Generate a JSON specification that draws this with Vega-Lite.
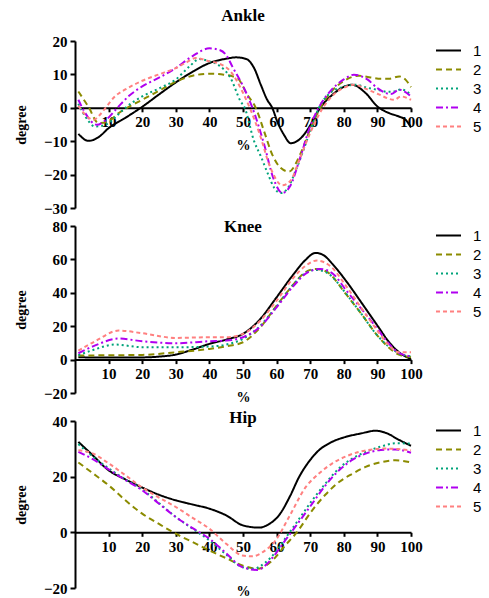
{
  "$schema": "https://vega.github.io/schema/vega-lite/v6.json",
  "padding": {"left": 14, "top": 7, "right": 0, "bottom": 0},
  "background": "white",
  "config": {
    "view": {"stroke": null},
    "font": "Liberation Serif",
    "title": {"font": "Liberation Serif", "fontSize": 17, "fontWeight": "bold", "color": "black", "frame": "group", "anchor": "middle"},
    "axis": {
      "grid": false, "domainColor": "black", "domainWidth": 2, "tickColor": "black", "tickWidth": 2, "tickSize": 5,
      "labelFont": "Liberation Serif", "labelFontWeight": "bold", "labelFontSize": 15, "labelColor": "black",
      "titleFont": "Liberation Serif", "titleFontWeight": "bold", "titleFontSize": 14, "titleColor": "black"
    },
    "axisX": {"tickSize": 4, "labelPadding": 3, "labelFlush": false, "labelOverlap": false},
    "axisY": {"labelPadding": 3, "titlePadding": 15},
    "legend": {"labelFont": "Liberation Sans", "labelFontSize": 15, "labelColor": "black", "symbolStrokeWidth": 2, "symbolSize": 625, "symbolType": "stroke", "rowPadding": 0, "clipHeight": 19, "labelLimit": 30, "offset": 20, "labelOffset": 11}
  },
  "bounds": "flush",
  "spacing": 18,
  "resolve": {"scale": {"x": "independent", "y": "independent", "color": "independent", "strokeDash": "independent"}, "legend": {"color": "independent", "strokeDash": "independent"}},
  "datasets": {
    "ankle": [
      {"sub":"1","pct":1,"deg":-7.8},{"sub":"1","pct":4,"deg":-9.9},{"sub":"1","pct":7,"deg":-8.8},{"sub":"1","pct":10,"deg":-6.1},{"sub":"1","pct":15,"deg":-3.0},{"sub":"1","pct":20,"deg":0.3},{"sub":"1","pct":25,"deg":4},{"sub":"1","pct":30,"deg":7.6},{"sub":"1","pct":35,"deg":10.8},{"sub":"1","pct":40,"deg":13.4},{"sub":"1","pct":45,"deg":14.7},{"sub":"1","pct":48,"deg":15.1},{"sub":"1","pct":51,"deg":14.6},{"sub":"1","pct":53.3,"deg":11.9},{"sub":"1","pct":55.3,"deg":6.9},{"sub":"1","pct":57.2,"deg":2.4},{"sub":"1","pct":58.7,"deg":0},{"sub":"1","pct":60.2,"deg":-4.1},{"sub":"1","pct":62.2,"deg":-8.1},{"sub":"1","pct":64.2,"deg":-10.6},{"sub":"1","pct":67.2,"deg":-9.1},{"sub":"1","pct":70.1,"deg":-5.1},{"sub":"1","pct":72.6,"deg":-0.6},{"sub":"1","pct":76.6,"deg":3.9},{"sub":"1","pct":82.5,"deg":6.9},{"sub":"1","pct":86.5,"deg":4.4},{"sub":"1","pct":90,"deg":0.4},{"sub":"1","pct":93.5,"deg":-1.6},{"sub":"1","pct":96.4,"deg":-2.6},{"sub":"1","pct":98.4,"deg":-3.6},{"sub":"1","pct":100,"deg":-5.9},
      {"sub":"2","pct":1,"deg":4.9},{"sub":"2","pct":4,"deg":0.3},{"sub":"2","pct":7,"deg":-4.6},{"sub":"2","pct":10,"deg":-4.0},{"sub":"2","pct":13,"deg":-1.6},{"sub":"2","pct":16,"deg":0.3},{"sub":"2","pct":20,"deg":2.4},{"sub":"2","pct":25,"deg":5.1},{"sub":"2","pct":30,"deg":7.8},{"sub":"2","pct":35,"deg":9.6},{"sub":"2","pct":40,"deg":10.2},{"sub":"2","pct":44.3,"deg":9.9},{"sub":"2","pct":48.3,"deg":8.9},{"sub":"2","pct":51.3,"deg":3.9},{"sub":"2","pct":53.8,"deg":0},{"sub":"2","pct":56.3,"deg":-7.1},{"sub":"2","pct":58.7,"deg":-14},{"sub":"2","pct":61,"deg":-17.8},{"sub":"2","pct":63.7,"deg":-19.1},{"sub":"2","pct":67,"deg":-14},{"sub":"2","pct":70,"deg":-6.4},{"sub":"2","pct":73,"deg":0},{"sub":"2","pct":76,"deg":4.5},{"sub":"2","pct":80,"deg":8},{"sub":"2","pct":84.5,"deg":9.6},{"sub":"2","pct":88,"deg":9.1},{"sub":"2","pct":91,"deg":8.7},{"sub":"2","pct":93.5,"deg":8.7},{"sub":"2","pct":96.5,"deg":9.4},{"sub":"2","pct":98.5,"deg":8.3},{"sub":"2","pct":100,"deg":6.2},
      {"sub":"3","pct":1,"deg":1.2},{"sub":"3","pct":3,"deg":-2.5},{"sub":"3","pct":6,"deg":-5.6},{"sub":"3","pct":8,"deg":-5.4},{"sub":"3","pct":10,"deg":-4.6},{"sub":"3","pct":12,"deg":-2.8},{"sub":"3","pct":15,"deg":0},{"sub":"3","pct":20,"deg":3.4},{"sub":"3","pct":25,"deg":5.8},{"sub":"3","pct":30,"deg":8.5},{"sub":"3","pct":34,"deg":12.3},{"sub":"3","pct":37,"deg":14.6},{"sub":"3","pct":40,"deg":13.9},{"sub":"3","pct":43,"deg":12.6},{"sub":"3","pct":46.3,"deg":8.9},{"sub":"3","pct":49.3,"deg":1.9},{"sub":"3","pct":50.5,"deg":0},{"sub":"3","pct":53.3,"deg":-10},{"sub":"3","pct":55.3,"deg":-14.5},{"sub":"3","pct":57.5,"deg":-20},{"sub":"3","pct":59.3,"deg":-24},{"sub":"3","pct":61.2,"deg":-25.5},{"sub":"3","pct":63,"deg":-24.5},{"sub":"3","pct":66,"deg":-18},{"sub":"3","pct":70,"deg":-7},{"sub":"3","pct":72.6,"deg":0},{"sub":"3","pct":76,"deg":4.5},{"sub":"3","pct":80,"deg":6.3},{"sub":"3","pct":83.5,"deg":6.9},{"sub":"3","pct":87,"deg":6},{"sub":"3","pct":90,"deg":5.4},{"sub":"3","pct":93,"deg":4.8},{"sub":"3","pct":95,"deg":4.9},{"sub":"3","pct":97,"deg":5.5},{"sub":"3","pct":100,"deg":3.9},
      {"sub":"4","pct":1,"deg":2.4},{"sub":"4","pct":3,"deg":-1.5},{"sub":"4","pct":6.5,"deg":-5.1},{"sub":"4","pct":9,"deg":-3.8},{"sub":"4","pct":12.6,"deg":0},{"sub":"4","pct":16,"deg":3.5},{"sub":"4","pct":20,"deg":6.4},{"sub":"4","pct":25,"deg":9},{"sub":"4","pct":30,"deg":11.9},{"sub":"4","pct":35,"deg":15.5},{"sub":"4","pct":40,"deg":17.8},{"sub":"4","pct":43,"deg":17.3},{"sub":"4","pct":45,"deg":15.8},{"sub":"4","pct":46.8,"deg":12.4},{"sub":"4","pct":50.3,"deg":5.9},{"sub":"4","pct":52.8,"deg":0},{"sub":"4","pct":56.3,"deg":-11},{"sub":"4","pct":59,"deg":-21},{"sub":"4","pct":61.7,"deg":-25.5},{"sub":"4","pct":64,"deg":-23.5},{"sub":"4","pct":67,"deg":-15},{"sub":"4","pct":70,"deg":-5.5},{"sub":"4","pct":72.5,"deg":0},{"sub":"4","pct":76,"deg":5},{"sub":"4","pct":80,"deg":8.5},{"sub":"4","pct":83,"deg":9.9},{"sub":"4","pct":87,"deg":8.5},{"sub":"4","pct":90,"deg":5.9},{"sub":"4","pct":94,"deg":4.1},{"sub":"4","pct":96.5,"deg":5.4},{"sub":"4","pct":100,"deg":3.4},
      {"sub":"5","pct":1,"deg":0.6},{"sub":"5","pct":3,"deg":-2},{"sub":"5","pct":5.5,"deg":-3.6},{"sub":"5","pct":7.5,"deg":-2},{"sub":"5","pct":9.1,"deg":0},{"sub":"5","pct":12,"deg":3.5},{"sub":"5","pct":15,"deg":5.5},{"sub":"5","pct":20,"deg":8.1},{"sub":"5","pct":25,"deg":10},{"sub":"5","pct":30,"deg":11.9},{"sub":"5","pct":33,"deg":13.5},{"sub":"5","pct":36,"deg":14.9},{"sub":"5","pct":40,"deg":13.9},{"sub":"5","pct":43,"deg":13.2},{"sub":"5","pct":46.3,"deg":10.9},{"sub":"5","pct":49.8,"deg":4.9},{"sub":"5","pct":52,"deg":0},{"sub":"5","pct":55,"deg":-8},{"sub":"5","pct":58,"deg":-17.5},{"sub":"5","pct":61.7,"deg":-23.2},{"sub":"5","pct":64,"deg":-22},{"sub":"5","pct":67,"deg":-15},{"sub":"5","pct":70,"deg":-7.5},{"sub":"5","pct":73.8,"deg":0},{"sub":"5","pct":77,"deg":4},{"sub":"5","pct":80,"deg":6},{"sub":"5","pct":83,"deg":6.9},{"sub":"5","pct":87,"deg":5.5},{"sub":"5","pct":90,"deg":4.2},{"sub":"5","pct":95,"deg":2.4},{"sub":"5","pct":97,"deg":3.4},{"sub":"5","pct":100,"deg":2.4}
    ],
    "knee": [
      {"sub":"1","pct":1,"deg":1.4},{"sub":"1","pct":10,"deg":1.2},{"sub":"1","pct":20,"deg":1.3},{"sub":"1","pct":25,"deg":1.8},{"sub":"1","pct":30,"deg":3},{"sub":"1","pct":35,"deg":6},{"sub":"1","pct":40,"deg":9.4},{"sub":"1","pct":45,"deg":12},{"sub":"1","pct":50,"deg":15.4},{"sub":"1","pct":55,"deg":24},{"sub":"1","pct":60,"deg":37.3},{"sub":"1","pct":65,"deg":51},{"sub":"1","pct":68.5,"deg":59.5},{"sub":"1","pct":71.6,"deg":63.9},{"sub":"1","pct":74,"deg":62.5},{"sub":"1","pct":76.6,"deg":57.3},{"sub":"1","pct":80.6,"deg":47.3},{"sub":"1","pct":85.5,"deg":33.4},{"sub":"1","pct":90,"deg":20.4},{"sub":"1","pct":93.5,"deg":10.4},{"sub":"1","pct":96.4,"deg":4.4},{"sub":"1","pct":100,"deg":0.4},
      {"sub":"2","pct":1,"deg":2.4},{"sub":"2","pct":10,"deg":2.6},{"sub":"2","pct":20,"deg":2.8},{"sub":"2","pct":30,"deg":4.4},{"sub":"2","pct":40,"deg":6.4},{"sub":"2","pct":45,"deg":8},{"sub":"2","pct":50,"deg":10.4},{"sub":"2","pct":55,"deg":19},{"sub":"2","pct":60,"deg":32.3},{"sub":"2","pct":65,"deg":45},{"sub":"2","pct":68,"deg":51.5},{"sub":"2","pct":71.6,"deg":54.3},{"sub":"2","pct":75,"deg":52.5},{"sub":"2","pct":80.6,"deg":39.3},{"sub":"2","pct":85,"deg":28},{"sub":"2","pct":90,"deg":14.4},{"sub":"2","pct":93,"deg":8},{"sub":"2","pct":96.4,"deg":3},{"sub":"2","pct":100,"deg":1.4},
      {"sub":"3","pct":1,"deg":2.6},{"sub":"3","pct":5,"deg":5.5},{"sub":"3","pct":12,"deg":9},{"sub":"3","pct":20,"deg":7.4},{"sub":"3","pct":30,"deg":7.4},{"sub":"3","pct":40,"deg":7.8},{"sub":"3","pct":45,"deg":9},{"sub":"3","pct":50,"deg":12.4},{"sub":"3","pct":55,"deg":20},{"sub":"3","pct":60,"deg":32},{"sub":"3","pct":65,"deg":45},{"sub":"3","pct":68,"deg":51},{"sub":"3","pct":71.6,"deg":53.7},{"sub":"3","pct":75,"deg":52},{"sub":"3","pct":80.6,"deg":39.7},{"sub":"3","pct":85,"deg":28},{"sub":"3","pct":90,"deg":14.4},{"sub":"3","pct":93,"deg":8.5},{"sub":"3","pct":96.4,"deg":3.8},{"sub":"3","pct":100,"deg":2},
      {"sub":"4","pct":1,"deg":3.8},{"sub":"4","pct":6,"deg":8.5},{"sub":"4","pct":13,"deg":12.6},{"sub":"4","pct":20,"deg":11},{"sub":"4","pct":30,"deg":9.8},{"sub":"4","pct":40,"deg":11},{"sub":"4","pct":45,"deg":11.4},{"sub":"4","pct":50,"deg":13.4},{"sub":"4","pct":55,"deg":19.5},{"sub":"4","pct":60,"deg":31.3},{"sub":"4","pct":65,"deg":44},{"sub":"4","pct":69,"deg":52},{"sub":"4","pct":73,"deg":54.3},{"sub":"4","pct":77,"deg":51},{"sub":"4","pct":80.6,"deg":41.7},{"sub":"4","pct":85,"deg":31},{"sub":"4","pct":90,"deg":18.4},{"sub":"4","pct":93,"deg":10.5},{"sub":"4","pct":96.4,"deg":4},{"sub":"4","pct":100,"deg":2},
      {"sub":"5","pct":1,"deg":5.4},{"sub":"5","pct":6,"deg":11},{"sub":"5","pct":13,"deg":17.4},{"sub":"5","pct":20,"deg":15.8},{"sub":"5","pct":30,"deg":13},{"sub":"5","pct":40,"deg":13.4},{"sub":"5","pct":45,"deg":13.4},{"sub":"5","pct":50,"deg":15.4},{"sub":"5","pct":55,"deg":23},{"sub":"5","pct":60,"deg":35.3},{"sub":"5","pct":65,"deg":49},{"sub":"5","pct":68.5,"deg":56},{"sub":"5","pct":72,"deg":59.3},{"sub":"5","pct":76,"deg":56},{"sub":"5","pct":80.6,"deg":44.3},{"sub":"5","pct":85,"deg":31.5},{"sub":"5","pct":90,"deg":17.4},{"sub":"5","pct":93,"deg":9.5},{"sub":"5","pct":96.4,"deg":4.4},{"sub":"5","pct":100,"deg":4.4}
    ],
    "hip": [
      {"sub":"1","pct":1,"deg":32.5},{"sub":"1","pct":5,"deg":28},{"sub":"1","pct":10,"deg":22.3},{"sub":"1","pct":15,"deg":19},{"sub":"1","pct":20,"deg":16.1},{"sub":"1","pct":25,"deg":13.5},{"sub":"1","pct":30,"deg":11.5},{"sub":"1","pct":35,"deg":10},{"sub":"1","pct":40,"deg":8.5},{"sub":"1","pct":45,"deg":6.1},{"sub":"1","pct":50,"deg":2.5},{"sub":"1","pct":54.8,"deg":1.7},{"sub":"1","pct":57.5,"deg":2.8},{"sub":"1","pct":60.7,"deg":6.1},{"sub":"1","pct":64,"deg":13},{"sub":"1","pct":66.7,"deg":19.9},{"sub":"1","pct":70,"deg":26},{"sub":"1","pct":72.6,"deg":29.5},{"sub":"1","pct":76,"deg":32.2},{"sub":"1","pct":80.6,"deg":34.3},{"sub":"1","pct":85,"deg":35.5},{"sub":"1","pct":89.5,"deg":36.5},{"sub":"1","pct":93,"deg":35.5},{"sub":"1","pct":96,"deg":33.5},{"sub":"1","pct":100,"deg":31.1},
      {"sub":"2","pct":1,"deg":25.1},{"sub":"2","pct":5,"deg":21.5},{"sub":"2","pct":10,"deg":16.9},{"sub":"2","pct":15,"deg":11.5},{"sub":"2","pct":20,"deg":6.7},{"sub":"2","pct":25,"deg":3},{"sub":"2","pct":30,"deg":-0.5},{"sub":"2","pct":35,"deg":-3.5},{"sub":"2","pct":40,"deg":-6.5},{"sub":"2","pct":45,"deg":-9.3},{"sub":"2","pct":49.8,"deg":-11.9},{"sub":"2","pct":54.3,"deg":-13.1},{"sub":"2","pct":57,"deg":-11.8},{"sub":"2","pct":59.7,"deg":-8.9},{"sub":"2","pct":62.5,"deg":-4.8},{"sub":"2","pct":65.7,"deg":-0.5},{"sub":"2","pct":70.6,"deg":7.9},{"sub":"2","pct":74.5,"deg":13.5},{"sub":"2","pct":78.6,"deg":18.1},{"sub":"2","pct":82.5,"deg":21},{"sub":"2","pct":86.5,"deg":23.5},{"sub":"2","pct":91,"deg":25.2},{"sub":"2","pct":95.4,"deg":25.9},{"sub":"2","pct":100,"deg":25.1},
      {"sub":"3","pct":1,"deg":31.7},{"sub":"3","pct":5,"deg":27.5},{"sub":"3","pct":10,"deg":23},{"sub":"3","pct":15,"deg":19},{"sub":"3","pct":20,"deg":15.4},{"sub":"3","pct":25,"deg":10.5},{"sub":"3","pct":30,"deg":5.5},{"sub":"3","pct":35,"deg":1.3},{"sub":"3","pct":40,"deg":-2.9},{"sub":"3","pct":45,"deg":-8},{"sub":"3","pct":49.8,"deg":-12.5},{"sub":"3","pct":53,"deg":-13.1},{"sub":"3","pct":56.5,"deg":-11},{"sub":"3","pct":59.7,"deg":-7.1},{"sub":"3","pct":62.5,"deg":-2.3},{"sub":"3","pct":65.7,"deg":3.1},{"sub":"3","pct":70.6,"deg":11.5},{"sub":"3","pct":74.5,"deg":17.5},{"sub":"3","pct":78.6,"deg":23},{"sub":"3","pct":82.5,"deg":26.5},{"sub":"3","pct":86.5,"deg":28.9},{"sub":"3","pct":91,"deg":30.8},{"sub":"3","pct":95.4,"deg":32},{"sub":"3","pct":100,"deg":31.9},
      {"sub":"4","pct":1,"deg":28.9},{"sub":"4","pct":5,"deg":26.5},{"sub":"4","pct":10,"deg":22.6},{"sub":"4","pct":15,"deg":18.8},{"sub":"4","pct":20,"deg":15.1},{"sub":"4","pct":25,"deg":10.3},{"sub":"4","pct":30,"deg":5.5},{"sub":"4","pct":35,"deg":1.5},{"sub":"4","pct":40,"deg":-2.3},{"sub":"4","pct":45,"deg":-7.5},{"sub":"4","pct":49.8,"deg":-12.5},{"sub":"4","pct":54.3,"deg":-13.5},{"sub":"4","pct":57,"deg":-11.5},{"sub":"4","pct":59.7,"deg":-7.7},{"sub":"4","pct":62.5,"deg":-3},{"sub":"4","pct":65.7,"deg":2.2},{"sub":"4","pct":70.6,"deg":10.3},{"sub":"4","pct":74.5,"deg":16.8},{"sub":"4","pct":78.6,"deg":22.3},{"sub":"4","pct":82.5,"deg":26},{"sub":"4","pct":86.5,"deg":28.3},{"sub":"4","pct":91,"deg":29.6},{"sub":"4","pct":95.4,"deg":29.8},{"sub":"4","pct":100,"deg":28.6},
      {"sub":"5","pct":1,"deg":29.5},{"sub":"5","pct":5,"deg":28.5},{"sub":"5","pct":10,"deg":24.8},{"sub":"5","pct":15,"deg":20.5},{"sub":"5","pct":20,"deg":16.1},{"sub":"5","pct":25,"deg":12.5},{"sub":"5","pct":30,"deg":9.1},{"sub":"5","pct":35,"deg":5.2},{"sub":"5","pct":40,"deg":1.3},{"sub":"5","pct":45,"deg":-4.1},{"sub":"5","pct":49.8,"deg":-8.3},{"sub":"5","pct":52.8,"deg":-8.6},{"sub":"5","pct":56,"deg":-7},{"sub":"5","pct":59.7,"deg":-2.9},{"sub":"5","pct":63.7,"deg":5.5},{"sub":"5","pct":68.7,"deg":16.3},{"sub":"5","pct":72.5,"deg":21},{"sub":"5","pct":76.6,"deg":24.8},{"sub":"5","pct":80.5,"deg":27.2},{"sub":"5","pct":84.5,"deg":28.9},{"sub":"5","pct":88.5,"deg":29.8},{"sub":"5","pct":92.5,"deg":30.1},{"sub":"5","pct":96,"deg":29.9},{"sub":"5","pct":100,"deg":29.5}
    ]
  },
  "vconcat": [
    {
      "width": 336, "height": 167,
      "title": {"text": "Ankle", "offset": 9},
      "data": {"name": "ankle"},
      "mark": {"type": "line", "interpolate": "monotone", "strokeWidth": 2},
      "encoding": {
        "x": {"field": "pct", "type": "quantitative", "scale": {"domain": [0, 100], "nice": false}, "axis": {"values": [10,20,30,40,50,60,70,80,90,100], "offset": -100.2, "title": "%", "titlePadding": 9}},
        "y": {"field": "deg", "type": "quantitative", "scale": {"domain": [-30, 20], "nice": false}, "axis": {"values": [-30,-20,-10,0,10,20], "title": "degree"}},
        "color": {"field": "sub", "type": "nominal", "scale": {"domain": ["1","2","3","4","5"], "range": ["#000000","#8B8B00","#00A37A","#B000F0","#FF8080"]}, "legend": {"title": null}},
        "strokeDash": {"field": "sub", "type": "nominal", "scale": {"domain": ["1","2","3","4","5"], "range": [[1,0],[6,4],[2,3],[7,3,2,3],[4,3]]}, "legend": {"title": null}}
      }
    },
    {
      "bounds": "flush",
      "spacing": 28,
      "resolve": {"scale": {"x": "independent", "y": "independent", "color": "independent", "strokeDash": "independent"}, "legend": {"color": "independent", "strokeDash": "independent"}},
      "vconcat": [
        {
          "width": 336, "height": 167,
          "title": {"text": "Knee", "offset": -17},
          "data": {"name": "knee"},
          "mark": {"type": "line", "interpolate": "monotone", "strokeWidth": 2},
          "encoding": {
            "x": {"field": "pct", "type": "quantitative", "scale": {"domain": [0, 100], "nice": false}, "axis": {"values": [10,20,30,40,50,60,70,80,90,100], "offset": -33.4, "title": "%", "titlePadding": 9}},
            "y": {"field": "deg", "type": "quantitative", "scale": {"domain": [-20, 80], "nice": false}, "axis": {"values": [-20,0,20,40,60,80], "title": "degree"}},
            "color": {"field": "sub", "type": "nominal", "scale": {"domain": ["1","2","3","4","5"], "range": ["#000000","#8B8B00","#00A37A","#B000F0","#FF8080"]}, "legend": {"title": null}},
            "strokeDash": {"field": "sub", "type": "nominal", "scale": {"domain": ["1","2","3","4","5"], "range": [[1,0],[6,4],[2,3],[7,3,2,3],[4,3]]}, "legend": {"title": null}}
          }
        },
        {
          "width": 336, "height": 167,
          "title": {"text": "Hip", "offset": -13},
          "data": {"name": "hip"},
          "mark": {"type": "line", "interpolate": "monotone", "strokeWidth": 2},
          "encoding": {
            "x": {"field": "pct", "type": "quantitative", "scale": {"domain": [0, 100], "nice": false}, "axis": {"values": [10,20,30,40,50,60,70,80,90,100], "offset": -55.7, "title": "%", "titlePadding": 30}},
            "y": {"field": "deg", "type": "quantitative", "scale": {"domain": [-20, 40], "nice": false}, "axis": {"values": [-20,0,20,40], "title": "degree"}},
            "color": {"field": "sub", "type": "nominal", "scale": {"domain": ["1","2","3","4","5"], "range": ["#000000","#8B8B00","#00A37A","#B000F0","#FF8080"]}, "legend": {"title": null}},
            "strokeDash": {"field": "sub", "type": "nominal", "scale": {"domain": ["1","2","3","4","5"], "range": [[1,0],[6,4],[2,3],[7,3,2,3],[4,3]]}, "legend": {"title": null}}
          }
        }
      ]
    }
  ]
}
